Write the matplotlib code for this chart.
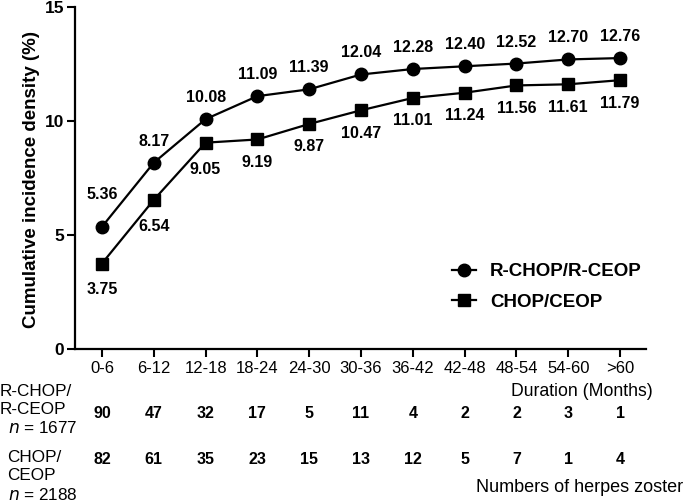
import matplotlib
matplotlib.use("Agg")
import matplotlib.pyplot as plt
import matplotlib.transforms as mtransforms

plt.rcParams['font.family'] = ['Liberation Sans', 'DejaVu Sans']

categories = ["0-6", "6-12", "12-18", "18-24", "24-30", "30-36", "36-42",
              "42-48", "48-54", "54-60", ">60"]
rchop = [5.36, 8.17, 10.08, 11.09, 11.39, 12.04, 12.28, 12.40, 12.52, 12.70, 12.76]
chop = [3.75, 6.54, 9.05, 9.19, 9.87, 10.47, 11.01, 11.24, 11.56, 11.61, 11.79]
rchop_counts = [90, 47, 32, 17, 5, 11, 4, 2, 2, 3, 1]
chop_counts = [82, 61, 35, 23, 15, 13, 12, 5, 7, 1, 4]
yticks = [0, 5, 10, 15]

W, H = 685, 503
fig = plt.figure(figsize=(W / 100, H / 100), dpi=100)
ax = fig.add_axes([75 / W, 1 - 349 / H, (646 - 75) / W, (349 - 7) / H])

x = list(range(len(categories)))
ax.plot(x, rchop, '-o', color='black', lw=1.6, ms=9, label='R-CHOP/R-CEOP', clip_on=False)
ax.plot(x, chop, '-s', color='black', lw=1.6, ms=8.5, label='CHOP/CEOP', clip_on=False)

for i, v in enumerate(rchop):
    off = 23 if i == 0 else 15.5
    ax.annotate(f"{v:.2f}", (i, v), xytext=(0, off), textcoords='offset points',
                ha='center', va='center', fontsize=11.5, fontweight='bold')
for i, v in enumerate(chop):
    off = -19 if i < 3 else -16.5
    ax.annotate(f"{v:.2f}", (i, v), xytext=(0, off), textcoords='offset points',
                ha='center', va='center', fontsize=11.5, fontweight='bold')

ax.set_xlim(-0.52, len(categories) - 0.5)
ax.set_ylim(0, 15)
ax.set_yticks(yticks)
ax.set_yticklabels([str(t) for t in yticks], fontsize=12.5, fontweight='bold')
ax.set_xticks(x)
ax.set_xticklabels(categories, fontsize=12)
ax.tick_params(axis='both', length=6, width=1.5, direction='out')
ax.tick_params(axis='x', pad=2.5)
ax.tick_params(axis='y', pad=2)
for s in ['top', 'right']:
    ax.spines[s].set_visible(False)
for s in ['left', 'bottom']:
    ax.spines[s].set_linewidth(1.6)

fig.text(32 / W, 1 - 180 / H, 'Cumulative incidence density (%)', rotation=90,
         ha='center', va='center', fontsize=13.5, fontweight='bold')

leg = ax.legend(loc='center left', bbox_to_anchor=(452 / W, 1 - 287 / H),
                bbox_transform=fig.transFigure, frameon=False,
                prop={'weight': 'bold', 'size': 13.5}, handlelength=1.28,
                handletextpad=0.75, labelspacing=0.7, borderpad=0, borderaxespad=0)

trans = mtransforms.blended_transform_factory(ax.transData, fig.transFigure)
for i in x:
    ax.text(i, 1 - 413 / H, str(rchop_counts[i]), transform=trans, ha='center',
            va='center', fontsize=11.5, fontweight='bold')
    ax.text(i, 1 - 460 / H, str(chop_counts[i]), transform=trans, ha='center',
            va='center', fontsize=11.5, fontweight='bold')

fig.text(653 / W, 1 - 392 / H, 'Duration (Months)', ha='right', va='center', fontsize=12.7)
fig.text(683 / W, 1 - 488 / H, 'Numbers of herpes zoster', ha='right', va='center', fontsize=13)

fig.text(0 / W, 1 - 392 / H, 'R-CHOP/', ha='left', va='center', fontsize=12.3)
fig.text(0 / W, 1 - 410 / H, 'R-CEOP', ha='left', va='center', fontsize=12.3)
fig.text(8 / W, 1 - 428 / H, r'$\it{n}$ = 1677', ha='left', va='center', fontsize=12.3)
fig.text(7 / W, 1 - 457 / H, 'CHOP/', ha='left', va='center', fontsize=12.3)
fig.text(7 / W, 1 - 475 / H, 'CEOP', ha='left', va='center', fontsize=12.3)
fig.text(8 / W, 1 - 495 / H, r'$\it{n}$ = 2188', ha='left', va='center', fontsize=12.3)

fig.savefig('out.png', dpi=100)
